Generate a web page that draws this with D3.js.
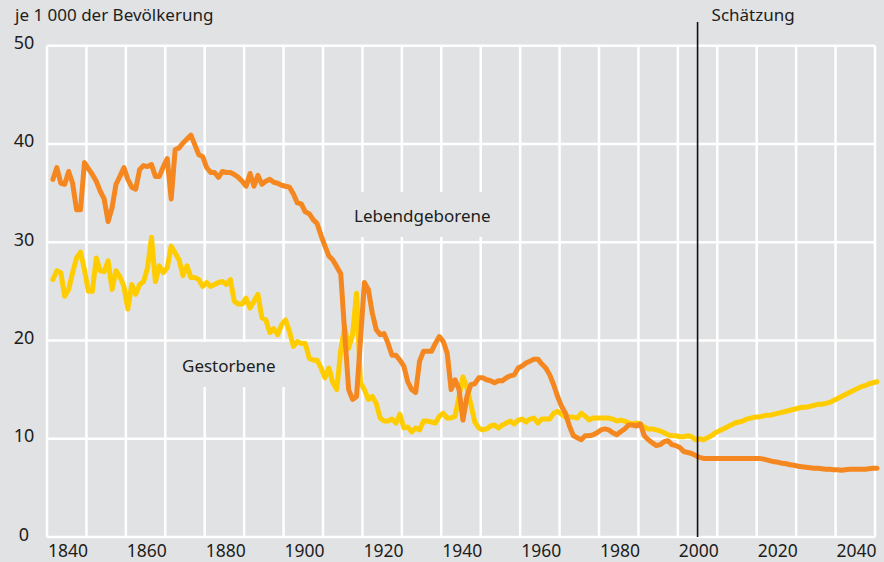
<!DOCTYPE html>
<html>
<head>
<meta charset="utf-8">
<script src="https://cdn.jsdelivr.net/npm/d3@7"></script>
<style>
  html, body { margin: 0; padding: 0; background: #e1e2e4; }
  svg { display: block; }
  text { font-family: "Noto Sans", sans-serif; fill: #1d1d1b; }
</style>
</head>
<body>
<svg id="chart"></svg>
<script>
// Lebendgeborene / Gestorbene je 1 000 der Bevölkerung, annual values from 1841
const firstYear = 1841;

const births = [
  36.4, 37.6, 36.0, 35.9, 37.2, 36.0, 33.3, 33.3, 38.1, 37.5, // 1841-1850
  36.9, 36.2, 35.2, 34.4, 32.1, 33.5, 35.9, 36.7, 37.6, 36.4, // 1851-1860
  35.6, 35.4, 37.4, 37.8, 37.7, 37.9, 36.7, 36.7, 37.7, 38.5, // 1861-1870
  34.4, 39.4, 39.6, 40.1, 40.5, 40.9, 39.9, 38.9, 38.7, 37.6, // 1871-1880
  37.1, 37.1, 36.6, 37.2, 37.1, 37.1, 36.9, 36.6, 36.2, 35.7, // 1881-1890
  37.0, 35.7, 36.8, 35.9, 36.2, 36.4, 36.1, 36.0, 35.8, 35.7, // 1891-1900
  35.6, 34.9, 34.0, 33.9, 33.1, 32.9, 32.3, 31.9, 30.7, 29.6, // 1901-1910
  28.6, 28.2, 27.5, 26.8, 20.8, 15.0, 14.0, 14.3, 20.0, 25.9, // 1911-1920
  25.2, 22.8, 21.1, 20.6, 20.7, 19.7, 18.5, 18.5, 18.0, 17.4, // 1921-1930
  15.8, 15.0, 14.7, 17.9, 18.9, 18.9, 18.9, 19.7, 20.4, 19.9, // 1931-1940
  18.7, 15.0, 16.0, 15.0, 11.9, 14.3, 15.5, 15.6, 16.2, 16.2, // 1941-1950
  16.0, 15.9, 15.7, 15.9, 15.9, 16.2, 16.4, 16.5, 17.2, 17.4, // 1951-1960
  17.7, 17.9, 18.1, 18.1, 17.6, 17.2, 16.5, 15.5, 14.3, 13.3, // 1961-1970
  12.6, 11.3, 10.3, 10.1, 9.9, 10.3, 10.3, 10.4, 10.6, 10.9,  // 1971-1980
  11.0, 10.9, 10.6, 10.4, 10.7, 11.0, 11.4, 11.4, 11.3, 11.5, // 1981-1990
  10.3, 9.9, 9.6, 9.3, 9.4, 9.7, 9.8, 9.4, 9.3, 9.1,          // 1991-2000
  8.7, 8.6, 8.5, 8.3, 8.1, 8.0, 8.0, 8.0, 8.0, 8.0,           // 2001-2010
  8.0, 8.0, 8.0, 8.0, 8.0, 8.0, 8.0, 8.0, 8.0, 8.0,           // 2011-2020
  7.95, 7.85, 7.75, 7.65, 7.6, 7.5, 7.45, 7.35, 7.3, 7.2,     // 2021-2030
  7.15, 7.1, 7.05, 7.0, 7.0, 6.95, 6.9, 6.9, 6.85, 6.85,      // 2031-2040
  6.8, 6.85, 6.9, 6.9, 6.9, 6.9, 6.9, 6.95, 7.0, 7.0          // 2041-2050
];

const deaths = [
  26.2, 27.1, 26.9, 24.5, 25.2, 26.9, 28.4, 29.0, 27.2, 25.0, // 1841-1850
  25.0, 28.4, 27.1, 27.0, 28.1, 25.2, 27.1, 26.5, 25.5, 23.2, // 1851-1860
  25.7, 24.7, 25.7, 26.0, 27.4, 30.5, 26.0, 27.6, 26.9, 27.4, // 1861-1870
  29.6, 28.9, 28.2, 26.6, 27.6, 26.4, 26.4, 26.2, 25.5, 25.9, // 1871-1880
  25.5, 25.7, 25.9, 26.0, 25.7, 26.2, 24.0, 23.7, 23.7, 24.3, // 1881-1890
  23.3, 24.0, 24.7, 22.3, 22.1, 20.8, 21.2, 20.6, 21.6, 22.1, // 1891-1900
  20.9, 19.4, 19.9, 19.7, 19.7, 18.2, 18.0, 18.0, 17.2, 16.2, // 1901-1910
  17.2, 15.7, 15.0, 19.0, 21.4, 19.2, 20.6, 24.8, 15.7, 15.0, // 1911-1920
  14.0, 14.3, 13.6, 12.1, 11.8, 11.8, 12.0, 11.6, 12.5, 11.1, // 1921-1930
  11.2, 10.7, 11.1, 10.9, 11.8, 11.8, 11.7, 11.6, 12.3, 12.6, // 1931-1940
  12.1, 12.1, 12.3, 14.3, 16.3, 15.2, 13.5, 11.7, 11.1, 10.9, // 1941-1950
  11.0, 11.3, 11.4, 11.1, 11.4, 11.6, 11.8, 11.5, 11.9, 12.0, // 1951-1960
  11.7, 12.0, 12.1, 11.6, 12.0, 12.0, 12.0, 12.6, 12.8, 12.5, // 1961-1970
  12.2, 12.2, 12.2, 12.1, 12.6, 12.3, 11.9, 12.1, 12.1, 12.1, // 1971-1980
  12.1, 12.1, 12.0, 11.8, 11.9, 11.8, 11.6, 11.5, 11.6, 11.5, // 1981-1990
  11.2, 11.0, 11.0, 10.9, 10.8, 10.6, 10.4, 10.3, 10.3, 10.2, // 1991-2000
  10.2, 10.3, 10.2, 9.9, 10.0, 9.9, 10.1, 10.3, 10.6, 10.8,   // 2001-2010
  11.0, 11.2, 11.4, 11.6, 11.7, 11.8, 12.0, 12.1, 12.2, 12.2, // 2011-2020
  12.3, 12.4, 12.4, 12.5, 12.6, 12.7, 12.8, 12.9, 13.0, 13.1, // 2021-2030
  13.2, 13.2, 13.3, 13.4, 13.5, 13.5, 13.6, 13.7, 13.9, 14.1, // 2031-2040
  14.3, 14.5, 14.7, 14.9, 15.1, 15.3, 15.4, 15.6, 15.7, 15.8  // 2041-2050
];

const yTicks = [0, 10, 20, 30, 40, 50];
const gridYears = [1840, 1850, 1860, 1870, 1880, 1890, 1900, 1910, 1920, 1930, 1940,
                   1950, 1960, 1970, 1980, 1990, 2000, 2010, 2020, 2030, 2040, 2050];
const yearLabels = [1840, 1860, 1880, 1900, 1920, 1940, 1960, 1980, 2000, 2020, 2040];
const estimateYear = 2005;

const width = 884, height = 562;
const orange = "#f4871f", yellow = "#ffcc00", bg = "#e1e2e4";

const svg = d3.select("#chart").attr("width", width).attr("height", height);
svg.append("rect").attr("width", width).attr("height", height).attr("fill", bg);

const x = d3.scaleLinear().domain([1840, 2050]).range([47, 875]);
const y = d3.scaleLinear().domain([0, 50]).range([537, 45.7]);

// grid
const grid = svg.append("g");
grid.selectAll("line.v").data(gridYears).enter().append("line")
  .attr("x1", d => x(d)).attr("x2", d => x(d))
  .attr("y1", y(50)).attr("y2", y(0))
  .attr("stroke", "#fff").attr("stroke-width", 2.5);
grid.selectAll("line.h").data(yTicks).enter().append("line")
  .attr("x1", x(1840)).attr("x2", x(2050))
  .attr("y1", d => y(d)).attr("y2", d => y(d))
  .attr("stroke", "#fff").attr("stroke-width", 2.5);

// axis labels
svg.selectAll("text.ylab").data(yTicks).enter().append("text")
  .attr("x", 24).attr("y", d => y(d) + 3.5)
  .attr("text-anchor", "middle")
  .style("font-size", "18px")
  .text(d => d);

svg.selectAll("text.xlab").data(yearLabels).enter().append("text")
  .attr("x", d => x(d) + 1).attr("y", 557)
  .style("font-size", "17.5px")
  .text(d => d);

svg.append("text").attr("x", 15).attr("y", 21)
  .style("font-size", "17px")
  .text("je 1 000 der Bevölkerung");

// series labels on a background patch (they cut the grid)
function seriesLabel(tx, ty, label) {
  let g = svg.append("g");
  let t = g.append("text").attr("x", tx).attr("y", ty)
    .style("font-size", "17px").text(label);
  let b = t.node().getBBox();
  g.insert("rect", "text")
    .attr("x", b.x - 12).attr("y", b.y - 12)
    .attr("width", b.width + 24).attr("height", b.height + 22)
    .attr("fill", bg);
}
seriesLabel(354, 222, "Lebendgeborene");
seriesLabel(182, 372, "Gestorbene");

// lines, annual values plotted at mid-year
const line = d3.line()
  .x((d, i) => x(firstYear + i + 0.5))
  .y(d => y(d));

svg.append("path").datum(deaths)
  .attr("d", line)
  .attr("fill", "none").attr("stroke", yellow)
  .attr("stroke-width", 5).attr("stroke-linejoin", "round").attr("stroke-linecap", "round");

svg.append("path").datum(births)
  .attr("d", line)
  .attr("fill", "none").attr("stroke", orange)
  .attr("stroke-width", 5).attr("stroke-linejoin", "round").attr("stroke-linecap", "round");

// estimate marker
svg.append("line")
  .attr("x1", x(estimateYear)).attr("x2", x(estimateYear))
  .attr("y1", 22).attr("y2", y(0))
  .attr("stroke", "#111").attr("stroke-width", 1.6);
svg.append("text").attr("x", x(estimateYear) + 14).attr("y", 21)
  .style("font-size", "17px")
  .text("Schätzung");
</script>
</body>
</html>
